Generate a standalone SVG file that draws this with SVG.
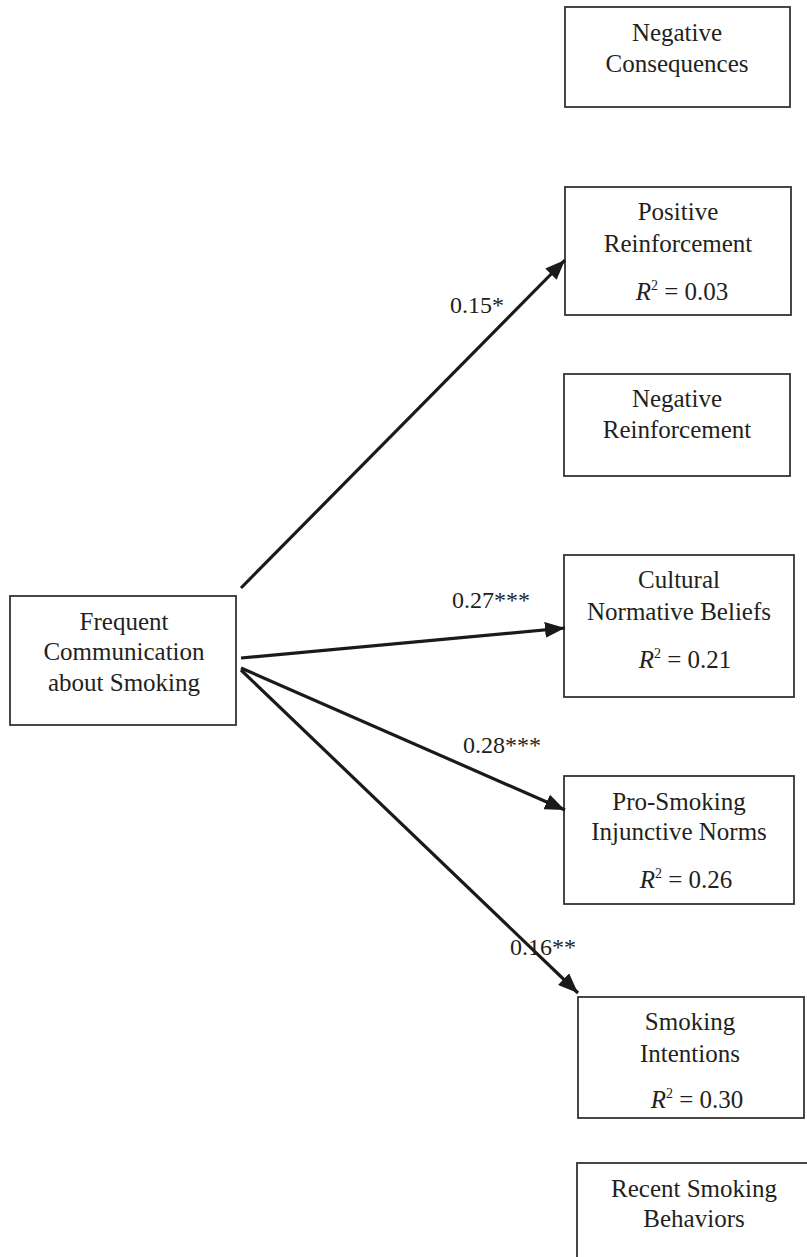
<svg xmlns="http://www.w3.org/2000/svg" width="807" height="1257" viewBox="0 0 807 1257">
<style>
.box{fill:#fff;stroke:#333;stroke-width:1.8}
.t{font-family:"Liberation Serif","Times New Roman",serif;font-size:25px;fill:#231f20;text-anchor:middle}
.lbl{font-family:"Liberation Serif","Times New Roman",serif;font-size:24px;fill:#231f20}
.it{font-style:italic}
.sup{font-size:14px}
.arr{stroke:#1a1a1a;stroke-width:3.2;fill:none;marker-end:url(#ah)}
</style>
<defs>
<marker id="ah" markerUnits="userSpaceOnUse" markerWidth="22" markerHeight="16" refX="20" refY="8" orient="auto">
<path d="M0,0 L20,8 L0,16 Z" fill="#1a1a1a"/>
</marker>
</defs>
<rect width="807" height="1257" fill="#fff"/>
<g id="negcons">
<rect class="box" x="565" y="7" width="225" height="100"/>
<text class="t" x="677" y="41">Negative</text>
<text class="t" x="677" y="72">Consequences</text>
</g>
<g id="posreinf">
<rect class="box" x="565" y="187" width="226" height="128"/>
<text class="t" x="678" y="220">Positive</text>
<text class="t" x="678" y="252">Reinforcement</text>
<text class="t" x="682" y="300"><tspan class="it">R</tspan><tspan class="sup" dy="-10">2</tspan><tspan dy="10"> = 0.03</tspan></text>
</g>
<g id="negreinf">
<rect class="box" x="564" y="374" width="226" height="102"/>
<text class="t" x="677" y="407">Negative</text>
<text class="t" x="677" y="438">Reinforcement</text>
</g>
<g id="cultural">
<rect class="box" x="564" y="555" width="230" height="142"/>
<text class="t" x="679" y="588">Cultural</text>
<text class="t" x="679" y="620">Normative Beliefs</text>
<text class="t" x="685" y="668"><tspan class="it">R</tspan><tspan class="sup" dy="-10">2</tspan><tspan dy="10"> = 0.21</tspan></text>
</g>
<g id="prosmoking">
<rect class="box" x="564" y="776" width="230" height="128"/>
<text class="t" x="679" y="810">Pro-Smoking</text>
<text class="t" x="679" y="840">Injunctive Norms</text>
<text class="t" x="686" y="888"><tspan class="it">R</tspan><tspan class="sup" dy="-10">2</tspan><tspan dy="10"> = 0.26</tspan></text>
</g>
<g id="intentions">
<rect class="box" x="578" y="997" width="226" height="121"/>
<text class="t" x="690" y="1030">Smoking</text>
<text class="t" x="690" y="1062">Intentions</text>
<text class="t" x="697" y="1108"><tspan class="it">R</tspan><tspan class="sup" dy="-10">2</tspan><tspan dy="10"> = 0.30</tspan></text>
</g>
<g id="recent">
<rect class="box" x="577" y="1163" width="240" height="110"/>
<text class="t" x="694" y="1197">Recent Smoking</text>
<text class="t" x="694" y="1227">Behaviors</text>
</g>
<g id="frequent">
<rect class="box" x="10" y="596" width="226" height="129"/>
<text class="t" x="124" y="630">Frequent</text>
<text class="t" x="124" y="660">Communication</text>
<text class="t" x="124" y="691">about Smoking</text>
</g>
<g id="connectors">
<line class="arr" x1="241" y1="588" x2="565" y2="260"/>
<line class="arr" x1="241" y1="658" x2="565" y2="628"/>
<line class="arr" x1="241" y1="668" x2="565" y2="810"/>
<line class="arr" x1="241" y1="670" x2="578" y2="993"/>
<text class="lbl" x="450" y="313">0.15*</text>
<text class="lbl" x="452" y="608">0.27***</text>
<text class="lbl" x="463" y="753">0.28***</text>
<text class="lbl" x="510" y="955">0.16**</text>
</g>
</svg>
